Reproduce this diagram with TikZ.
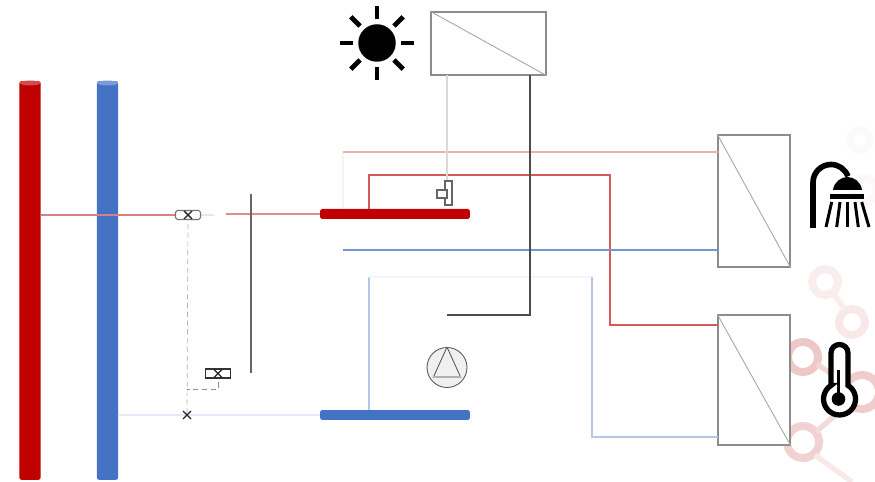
\documentclass[tikz,border=0pt]{standalone}
\usepackage{tikz}
\usetikzlibrary{arrows.meta, calc, shapes.misc}
\definecolor{hotred}{HTML}{C00000}
\definecolor{coldblue}{HTML}{4472C4}
\colorlet{ringred}{red!70!black}

\begin{document}
\begin{tikzpicture} [x=0.02cm, y=-0.02cm,
    bg/.style = {line width=4.5pt, draw=#1, fill=white},
    colstyle/.style = {shape = rectangle, fill=#1, minimum width=0.43cm, minimum height=7.98cm, inner sep=0, rounded corners=1.5pt},
    tankstyle/.style = {shape = rectangle, fill=#1, minimum width=3cm, minimum height=0.2cm, inner sep=0, rounded corners=1pt},
    boxstyle/.style = {shape = rectangle, draw=black!45, line width=0.8pt, fill=white, inner sep=0},
    valvestyle/.style = {shape = rectangle, draw=#1, line width=0.6pt, fill=white, inner sep=0, minimum width=0.5cm, minimum height=0.18cm},
    crossstyle/.style = {shape = cross out, draw=black!85, line width=0.8pt, inner sep=0, minimum size=0.13cm},
    ]
    \useasboundingbox (0,0) rectangle (875,482);
    % backdrop
    \foreach \cx/\cy/\rr/\col in {825/282/13/ringred!7, 852/322/13/ringred!9, 803/357/15/ringred!22, 862/392/17/ringred!20, 803/442/16/ringred!18, 865/190/12/ringred!3, 860/140/10/ringred!2}
        \draw[bg=\col] (\cx,\cy) circle (\rr);
    \draw[line width=3pt, ringred!7] (834,294) -- (845,310);
    \draw[line width=3pt, ringred!16] (817,364) -- (846,384);
    \draw[line width=3pt, ringred!15] (816,432) -- (848,404);
    \draw[line width=3pt, ringred!9] (815,455) -- (852,482);

    % columns
    \node[colstyle=hotred] at (30,280.5) (hotcol) {};
    \node[colstyle=coldblue] at (107.5,280.5) (coldcol) {};
    \fill[hotred!70] (30,83) ellipse (10.5 and 2.5);
    \fill[coldblue!70] (107.5,83) ellipse (10.5 and 2.5);

    % tanks
    \node[tankstyle=hotred] at (395,214) (hottank) {};
    \node[tankstyle=coldblue] at (395,415) (coldtank) {};

    % boxes
    \node[boxstyle, minimum width=2.3cm, minimum height=1.26cm] at (488.5,43.5) (solar) {};
    \node[boxstyle, minimum width=1.44cm, minimum height=2.64cm] at (754,201) (shwbox) {};
    \node[boxstyle, minimum width=1.44cm, minimum height=2.6cm] at (754,380) (heatbox) {};
    \draw[black!35, line width=0.5pt] (solar.north west) -- (solar.south east);
    \draw[black!35, line width=0.5pt] (shwbox.north west) -- (shwbox.south east);
    \draw[black!35, line width=0.5pt] (heatbox.north west) -- (heatbox.south east);

    \coordinate (gapa) at (214,215);
    \coordinate (gapb) at (226,214);
    \coordinate (sigtop) at (251,194);
    \coordinate (sigbot) at (251,373);
    \coordinate (tapa) at (343,209);
    \coordinate (tapb) at (369,209);
    \coordinate (tapc) at (369,410);
    \coordinate (shwhot) at (718,152);
    \coordinate (shwcold) at (718,250);
    \coordinate (heathot) at (718,325);
    \coordinate (heatcold) at (718,437);
    \coordinate (coldout) at (343,250);
    \coordinate (pvend) at (447,315);
    \coordinate (pva) at (530,75);
    \coordinate (pvb) at (447,75);
    \coordinate (elbowa) at (187,389);
    \coordinate (cornera) at (592,277);
    \coordinate (cornerb) at (610,175);
    \coordinate (valveap) at (188,215);

    % pipes
    \draw[red!70!black!50, line width=0.9pt] (hotcol.east |- valveap) -- (valveap);
    \draw[hotred!12, line width=0.8pt] (valveap) -- (gapa);
    \draw[hotred!45, line width=0.8pt] (gapb) -- (gapb -| hottank.west);
    \draw[hotred!6, line width=0.6pt] (tapa) -- (tapa |- shwhot);
    \draw[hotred!30, line width=0.8pt] (tapa |- shwhot) -- (shwhot);
    \draw[hotred!65, line width=0.7pt] (tapb) |- (cornerb) -- (cornerb |- heathot) -- (heathot);
    \draw[coldblue!75, line width=0.7pt] (coldout) -- (shwcold);
    \draw[coldblue!15, line width=0.7pt] (coldcol.east |- coldtank) -- (coldtank.west);
    \draw[coldblue!40, line width=0.8pt] (tapc) -- (tapc |- cornera);
    \draw[coldblue!7, line width=0.6pt] (tapc |- cornera) -- (cornera);
    \draw[coldblue!40, line width=0.8pt] (cornera) -- (cornera |- heatcold) -- (heatcold);

    % signal lines
    \draw[black!60, line width=0.7pt] (sigtop) -- (sigbot);
    \draw[black!70, line width=0.7pt] (pva) |- (pvend);
    \draw[black!15, line width=0.6pt] (pvb) -- (447,181);
    \draw[black!30, densely dashed, line width=0.4pt] (valveap) -- (187,415);
    \draw[black!45, densely dashed, line width=0.4pt] (218,373.5) |- (elbowa);

    % valves and sensor
    \node[valvestyle=black!55, rounded corners=1pt] at (valveap) (valvea) {};
    \node[valvestyle=black!80] at (218,373.5) (valveb) {};
    \node[crossstyle] at (valvea) (xa) {};
    \node[crossstyle] at (valveb) (xb) {};
    \node[crossstyle] at (187,415) (xc) {};
    \node[valvestyle=black!60, minimum width=0.14cm, minimum height=0.48cm] at (448.5,193) (sensv) {};
    \node[valvestyle=black!60, minimum width=0.2cm, minimum height=0.16cm] at (442,194) (sensh) {};

    % pump
    \node[circle, draw=black!65, fill=black!6, line width=0.5pt, minimum size=0.8cm, inner sep=0] at (447,367.5) (pump) {};
    \draw[black!65, line width=0.5pt] (pump.north) -- (433,378) (pump.north) -- (461,378);
    \draw[black!30, line width=1pt] (433,377) -- (461,377);

    % sun
    \node[circle, fill=black, minimum size=0.75cm, inner sep=0] at (377,43) (sun) {};
    \foreach \a in {0,45,...,315}
        \draw[line width=2.7pt] ($(sun)+(\a:24)$) -- ($(sun)+(\a:37)$);

    % shower
    \draw[line width=3.2pt] (813,228) -- (813,182.5) arc[start angle=180, end angle=340, radius=18];
    \fill (833,190) .. controls (834,182) and (841,177) .. (847.5,177) .. controls (854,177) and (861,182) .. (862,190) -- cycle;
    \draw[line width=2.6pt] (830,196.5) -- (864,196.5);
    \foreach \a/\b in {831.7/826, 840/836.7, 847.3/847.3, 855/858.3, 861.7/869}
        \draw[line width=1.7pt] (\a,202) -- (\b,227);

    % thermometer
    \draw[line width=3pt, fill=white] (831,385.4) -- (831,353) arc[start angle=180, end angle=360, radius=8.5] -- (848,385.4) arc[start angle=-58, end angle=238, radius=16] -- cycle;
    \fill (838.5,399) circle (6.8);
    \draw[line width=1.5pt] (838.5,370) -- (838.5,399);
\end{tikzpicture}
\end{document}
